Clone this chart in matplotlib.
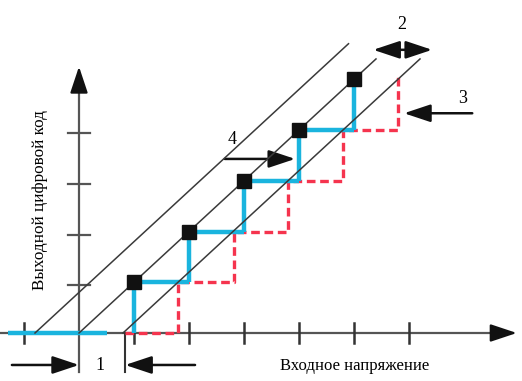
import matplotlib
matplotlib.use("Agg")
import matplotlib.pyplot as plt

# ---- data (chart units: x = input step, y = output code) ----
codes = [1, 2, 3, 4, 5]
ideal_steps = [1, 2, 3, 4, 5]              # blue (ideal) transition points
real_steps = [1.8, 2.82, 3.8, 4.8, 5.8]    # red dashed (shifted) transitions
real_start = 0.84
real_top = 5.05
zero_code_span = [-1.29, 0.51]             # blue segment at code 0
diag_starts = [-0.8, 0.0, 0.8]             # x where diagonal lines leave the axis
diag_ends_y = [5.7, 5.4, 5.4]
x_ticks = [-1, 1, 2, 3, 4, 5, 6]
y_ticks = [1, 2, 3, 4]
x_label = "Входное напряжение"
y_label = "Выходной цифровой код"

W, H = 522, 381
fig = plt.figure(figsize=(W / 100, H / 100), dpi=100)
ax = fig.add_axes([0, 0, 1, 1])
ux, uy = 55.0, 50.75
ox, oy = 79.0, 333.0
ax.set_xlim((0 - ox) / ux, (W - ox) / ux)
ax.set_ylim((oy - H) / uy, oy / uy)
ax.axis("off")

blue = "#1AB4DE"
red = "#F5344E"
gray = "#3A3A3A"
serif = ["Liberation Serif", "DejaVu Serif"]

head = "-|>,head_length=0.9,head_width=0.3"

# axes
ax.plot([-1.44, 7.75], [0, 0], color="#555555", lw=1.6, zorder=2, solid_capstyle="butt")
ax.annotate("", xy=(7.96, 0), xytext=(7.6, 0),
            arrowprops=dict(arrowstyle=head, mutation_scale=18,
                            color="#111111", lw=1.6, shrinkA=0, shrinkB=0), zorder=3)
ax.plot([0, 0], [-0.77, 4.9], color="#555555", lw=1.6, zorder=2)
ax.annotate("", xy=(0, 5.25), xytext=(0, 4.85),
            arrowprops=dict(arrowstyle=head, mutation_scale=18,
                            color="#111111", lw=1.6, shrinkA=0, shrinkB=0), zorder=3)
for t in x_ticks:
    ax.plot([t, t], [-0.2, 0.2], color="#333333", lw=1.8, zorder=2)
for t in y_ticks:
    ax.plot([-0.2, 0.2], [t - 0.06, t - 0.06], color="#555555", lw=1.6, zorder=2)

# red dashed staircase (real)
rx = [real_start]
ry = [0]
prev = 0
for s, c in zip(real_steps, codes):
    rx += [s, s]
    ry += [prev, c]
    prev = c
ry[-1] = real_top
ax.plot(rx, ry, color=red, lw=2.4, linestyle=(0, (2.6, 1.4)), zorder=3)

# blue staircase (ideal)
ax.plot(zero_code_span, [0, 0], color=blue, lw=3.2, zorder=4, solid_capstyle="butt")
for i, (s, c) in enumerate(zip(ideal_steps, codes)):
    ax.plot([s, s], [c - 1, c], color=blue, lw=3.2, zorder=4, solid_capstyle="butt")
    if i < len(codes) - 1:
        ax.plot([s, ideal_steps[i + 1]], [c, c], color=blue, lw=3.2, zorder=4,
                solid_capstyle="butt")

# diagonal lines
for x0, ye in zip(diag_starts, diag_ends_y):
    ax.plot([x0, x0 + ye], [0, ye], color=gray, lw=1.1, zorder=5)

# squares
ax.plot(ideal_steps, codes, linestyle="none", marker="s", markersize=9.5,
        color="#111111", zorder=6)

# dimension 1
ax.plot([real_start, real_start], [0, -0.77], color="#333333", lw=1.5, zorder=2)
arrow_kw = dict(arrowstyle=head, mutation_scale=18,
                color="#111111", lw=1.8, shrinkA=0, shrinkB=0)
ax.annotate("", xy=(0, -0.63), xytext=(-1.22, -0.63), arrowprops=arrow_kw)
ax.annotate("", xy=(real_start, -0.63), xytext=(2.11, -0.63), arrowprops=arrow_kw)
ax.text(0.38, -0.65, "1", family=serif, fontsize=13, ha="center", va="center")

# annotation 2 (double arrow)
ax.annotate("", xy=(6.42, 5.58), xytext=(5.35, 5.58),
            arrowprops=dict(arrowstyle="<|-|>,head_length=0.9,head_width=0.3",
                            mutation_scale=18, color="#111111", lw=1.8, shrinkA=0, shrinkB=0))
ax.text(5.87, 6.07, "2", family=serif, fontsize=13, ha="center", va="center")

# annotation 3
ax.annotate("", xy=(5.91, 4.33), xytext=(7.15, 4.33), arrowprops=arrow_kw)
ax.text(6.98, 4.63, "3", family=serif, fontsize=13, ha="center", va="center")

# annotation 4
ax.annotate("", xy=(3.93, 3.43), xytext=(2.65, 3.43), arrowprops=arrow_kw)
ax.text(2.78, 3.82, "4", family=serif, fontsize=13, ha="center", va="center")

# axis labels
ax.text((355 - ox) / ux, (oy - 366) / uy, x_label, family=serif, fontsize=12,
        ha="center", va="center")
ax.text((40 - ox) / ux, (oy - 200) / uy, y_label, family=serif, fontsize=12.3,
        ha="center", va="center", rotation=90)

fig.savefig("out.png", dpi=100)
